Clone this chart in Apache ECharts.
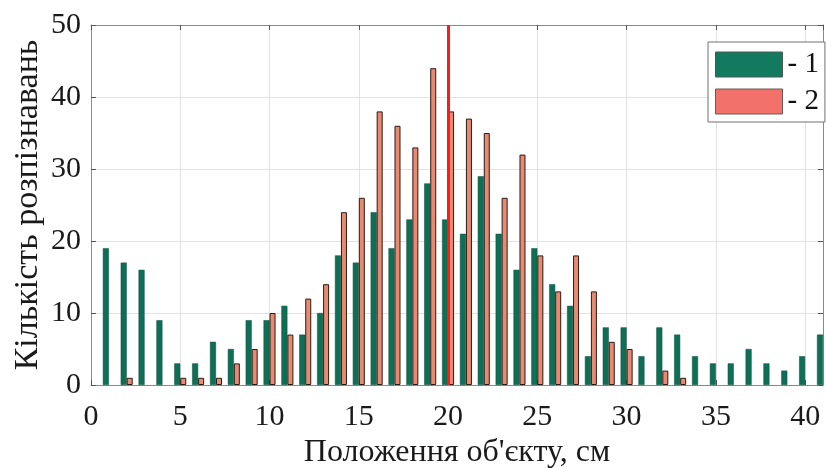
<!DOCTYPE html>
<html>
<head>
<meta charset="utf-8">
<script src="https://cdn.jsdelivr.net/npm/echarts@6/dist/echarts.min.js"></script>
<style>
  html, body { margin: 0; padding: 0; background: #ffffff; }
  #chart { width: 826px; height: 468px; }
</style>
</head>
<body>
<div id="chart"></div>
<script>
// Object positions along the track, cm
const positions = [1,2,3,4,5,6,7,8,9,10,11,12,13,14,15,16,17,18,19,20,21,22,23,24,25,26,27,28,29,30,31,32,33,34,35,36,37,38,39,40,41];
// Recognition counts, series 1
const counts1 = [19,17,16,9,3,3,6,5,9,9,11,7,10,18,17,24,19,23,28,23,21,29,21,16,19,14,11,4,8,8,4,8,7,4,3,3,5,3,2,4,7];
// Recognition counts, series 2
const counts2 = [0,1,0,0,1,1,1,3,5,10,7,12,14,24,26,38,36,33,44,38,37,35,26,32,18,13,18,13,6,5,0,2,1,0,0,0,0,0,0,0,0];
const seriesNames = ['- 1', '- 2'];
const markerPosition = 20;
const xTicks = { min: 0, max: 41, step: 5 };
const yTicks = { min: 0, max: 50, step: 10 };

const FONT = '"Liberation Serif", "Times New Roman", serif';
const GREEN = '#0f6f56';
const SALMON = '#e88a72';
const FRAME = '#8a8a8a';
const GRID = '#e2e2e2';

// [position, count] pairs; empty counts produce no bar
const pairs = vals => positions.map((p, i) => [p, vals[i]]).filter(d => d[1] > 0);

const chart = echarts.init(document.getElementById('chart'), null, { renderer: 'canvas' });

const baseX = {
  type: 'value', min: xTicks.min, max: xTicks.max, interval: xTicks.step,
  axisLine: { show: true, onZero: false, lineStyle: { color: FRAME, width: 1 } },
  axisTick: { show: true, inside: true, length: 5, lineStyle: { color: '#555' } }
};
const baseY = {
  type: 'value', min: yTicks.min, max: yTicks.max, interval: yTicks.step,
  axisLine: { show: true, onZero: false, lineStyle: { color: FRAME, width: 1 } },
  axisTick: { show: true, inside: true, length: 5, lineStyle: { color: '#555' } }
};

chart.setOption({
  animation: false,
  backgroundColor: '#ffffff',
  grid: { left: 91, right: 3, top: 25, bottom: 83, containLabel: false, outerBoundsMode: 'none' },
  legend: {
    orient: 'vertical',
    left: 708, top: 42,
    padding: [8, 6, 6, 7],
    itemWidth: 67, itemHeight: 25, itemGap: 8,
    backgroundColor: '#ffffff',
    borderColor: '#707070', borderWidth: 1, borderRadius: 0,
    textStyle: { fontFamily: FONT, fontSize: 29, color: '#111' },
    data: [
      { name: seriesNames[0], icon: 'rect', itemStyle: { color: '#127a5e', borderColor: '#4a5a52', borderWidth: 1 } },
      { name: seriesNames[1], icon: 'rect', itemStyle: { color: '#f2716a', borderColor: '#6a5a55', borderWidth: 1 } }
    ]
  },
  xAxis: [
    Object.assign({}, baseX, {
      position: 'bottom',
      name: "Положення об'єкту, см",
      nameLocation: 'middle', nameGap: 52, nameMoveOverlap: false,
      nameTextStyle: { fontFamily: FONT, fontSize: 32, color: '#1a1a1a' },
      axisLabel: { fontFamily: FONT, fontSize: 30, color: '#1a1a1a', margin: 17, showMaxLabel: false,
                   formatter: v => (v % xTicks.step === 0 ? String(v) : '') },
      splitLine: { show: true, lineStyle: { color: GRID, width: 1 } }
    }),
    Object.assign({}, baseX, {
      position: 'top',
      axisLabel: { show: false },
      splitLine: { show: false }
    })
  ],
  yAxis: [
    Object.assign({}, baseY, {
      position: 'left',
      name: 'Кількість розпізнавань',
      nameLocation: 'middle', nameGap: 46, nameMoveOverlap: false,
      nameTextStyle: { fontFamily: FONT, fontSize: 34, color: '#1a1a1a' },
      axisLabel: { fontFamily: FONT, fontSize: 30, color: '#1a1a1a', margin: 10 },
      splitLine: { show: true, lineStyle: { color: GRID, width: 1 } }
    }),
    Object.assign({}, baseY, {
      position: 'right',
      axisLabel: { show: false },
      splitLine: { show: false }
    })
  ],
  series: [
    {
      name: seriesNames[0], type: 'bar',
      xAxisIndex: 0, yAxisIndex: 0,
      barWidth: 6, barGap: '0%',
      itemStyle: { color: GREEN, borderColor: '#0b4f3d', borderWidth: 0.5 },
      data: pairs(counts1)
    },
    {
      name: seriesNames[1], type: 'bar',
      xAxisIndex: 0, yAxisIndex: 0,
      barWidth: 6, barGap: '0%',
      itemStyle: { color: SALMON, borderColor: '#2a1a14', borderWidth: 1 },
      data: pairs(counts2)
    },
    {
      // vertical marker at the reference position
      name: 'marker', type: 'line',
      xAxisIndex: 0, yAxisIndex: 0,
      data: [],
      z: 10,
      markLine: {
        silent: true, symbol: 'none', animation: false,
        label: { show: false },
        lineStyle: { color: '#ff1a1a', width: 3, type: 'solid' },
        data: [{ xAxis: markerPosition }]
      }
    }
  ]
});
</script>
</body>
</html>
